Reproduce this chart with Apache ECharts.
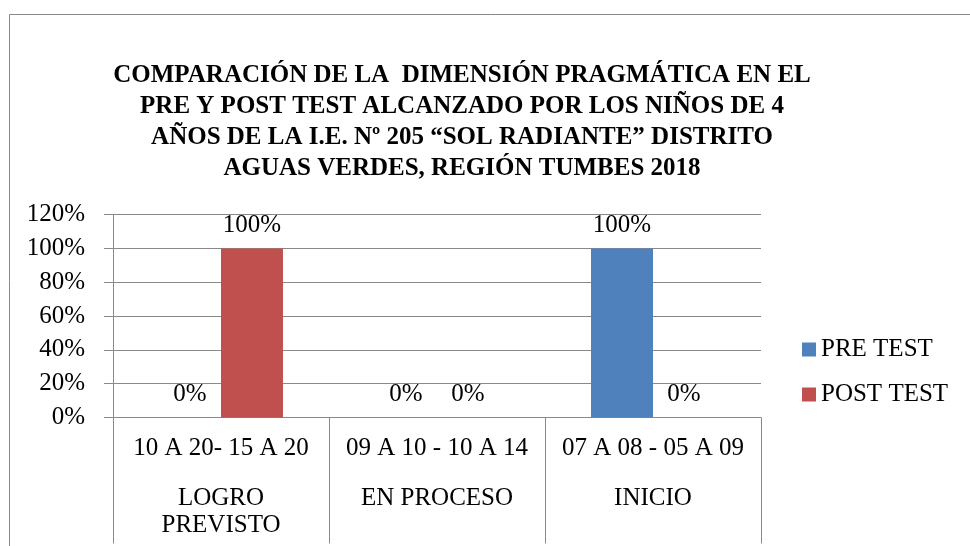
<!DOCTYPE html>
<html>
<head>
<meta charset="utf-8">
<script src="https://cdn.jsdelivr.net/npm/echarts@6/dist/echarts.min.js"></script>
<style>html,body{margin:0;padding:0;background:#fff}#c{width:970px;height:546px}</style>
</head>
<body>
<div id="c"></div>
<script>
var titleLines = [
  'COMPARACIÓN DE LA  DIMENSIÓN PRAGMÁTICA EN EL',
  'PRE Y POST TEST ALCANZADO POR LOS NIÑOS DE 4',
  'AÑOS DE LA I.E. Nº 205 “SOL RADIANTE” DISTRITO',
  'AGUAS VERDES, REGIÓN TUMBES 2018'
];
var rangeLabels = ['10 A 20- 15 A 20', '09 A 10 - 10 A 14', '07 A 08 - 05 A 09'];
var levelLabels = ['LOGRO\nPREVISTO', 'EN PROCESO', 'INICIO'];
var seriesNames = ['PRE TEST', 'POST TEST'];
var preTest = [0, 0, 1];
var postTest = [1, 0, 0];
var yTicks = [0, 0.2, 0.4, 0.6, 0.8, 1.0, 1.2];

var FONT = '"Liberation Serif", "Times New Roman", serif';
var TITLE_FONT = 'bold 25px "Liberation Serif", "Times New Roman", serif';
var GRAY = '#898989';
var pct = function (v) { return Math.round(v * 100) + '%'; };

var chart = echarts.init(document.getElementById('c'), null, {renderer: 'canvas'});
var labelCfg = {
  show: true, position: 'top', distance: 11,
  color: '#000', fontFamily: FONT, fontSize: 25,
  formatter: function (p) { return pct(p.value); }
};
var graphics = [{
  type: 'rect', z: -10,
  shape: {x: 9.5, y: 14.5, width: 1000, height: 600},
  style: {fill: null, stroke: GRAY, lineWidth: 1}
}];
titleLines.forEach(function (t, i) {
  graphics.push({
    type: 'text', x: 462, y: 60 + i * 31,
    style: {
      text: t, font: TITLE_FONT,
      fontFamily: FONT, fontSize: 25, fontWeight: 'bold',
      fill: '#000', align: 'center', verticalAlign: 'top', lineHeight: 31
    }
  });
});
var option = {
  animation: false,
  backgroundColor: '#fff',
  textStyle: {fontFamily: FONT},
  graphic: graphics,
  legend: {
    orient: 'vertical', left: 802, top: 337, padding: 0,
    itemWidth: 14, itemHeight: 14, itemGap: 20,
    icon: 'rect',
    data: seriesNames,
    textStyle: {fontFamily: FONT, fontSize: 25, color: '#000', lineHeight: 25}
  },
  grid: {left: 113, right: 209, top: 214.7, bottom: 128.5, containLabel: false},
  xAxis: [{
    type: 'category', data: rangeLabels, position: 'bottom',
    axisLine: {show: true, lineStyle: {color: GRAY, width: 1}},
    axisTick: {show: true, interval: 0, length: 126, lineStyle: {color: GRAY, width: 1}},
    axisLabel: {interval: 0, margin: 17, color: '#000', fontFamily: FONT, fontSize: 25, lineHeight: 27},
    splitLine: {show: false}
  }, {
    type: 'category', data: levelLabels, position: 'bottom', gridIndex: 0,
    axisLine: {show: false}, axisTick: {show: false},
    axisLabel: {interval: 0, margin: 67, color: '#000', fontFamily: FONT, fontSize: 25, lineHeight: 27},
    splitLine: {show: false}
  }],
  yAxis: {
    type: 'value', min: yTicks[0], max: yTicks[yTicks.length - 1], interval: 0.2,
    axisLine: {show: true, lineStyle: {color: GRAY, width: 1}},
    axisTick: {show: true, length: 9, lineStyle: {color: GRAY, width: 1}},
    axisLabel: {margin: 28, color: '#000', fontFamily: FONT, fontSize: 25, formatter: pct},
    splitLine: {show: true, lineStyle: {color: GRAY, width: 1}}
  },
  series: [{
    name: seriesNames[0], type: 'bar', data: preTest, xAxisIndex: 0,
    barGap: '0%', barCategoryGap: '42.6%',
    itemStyle: {color: '#4F81BD'}, label: labelCfg
  }, {
    name: seriesNames[1], type: 'bar', data: postTest, xAxisIndex: 0,
    barGap: '0%', barCategoryGap: '42.6%',
    itemStyle: {color: '#C0504D'}, label: labelCfg
  }]
};
function render() { chart.clear(); chart.setOption(option, true); }
render();
if (document.fonts && document.fonts.load) {
  document.fonts.load(TITLE_FONT, 'COMPARACIÓN').then(render, function () {});
}
setTimeout(render, 200);
</script>
</body>
</html>
